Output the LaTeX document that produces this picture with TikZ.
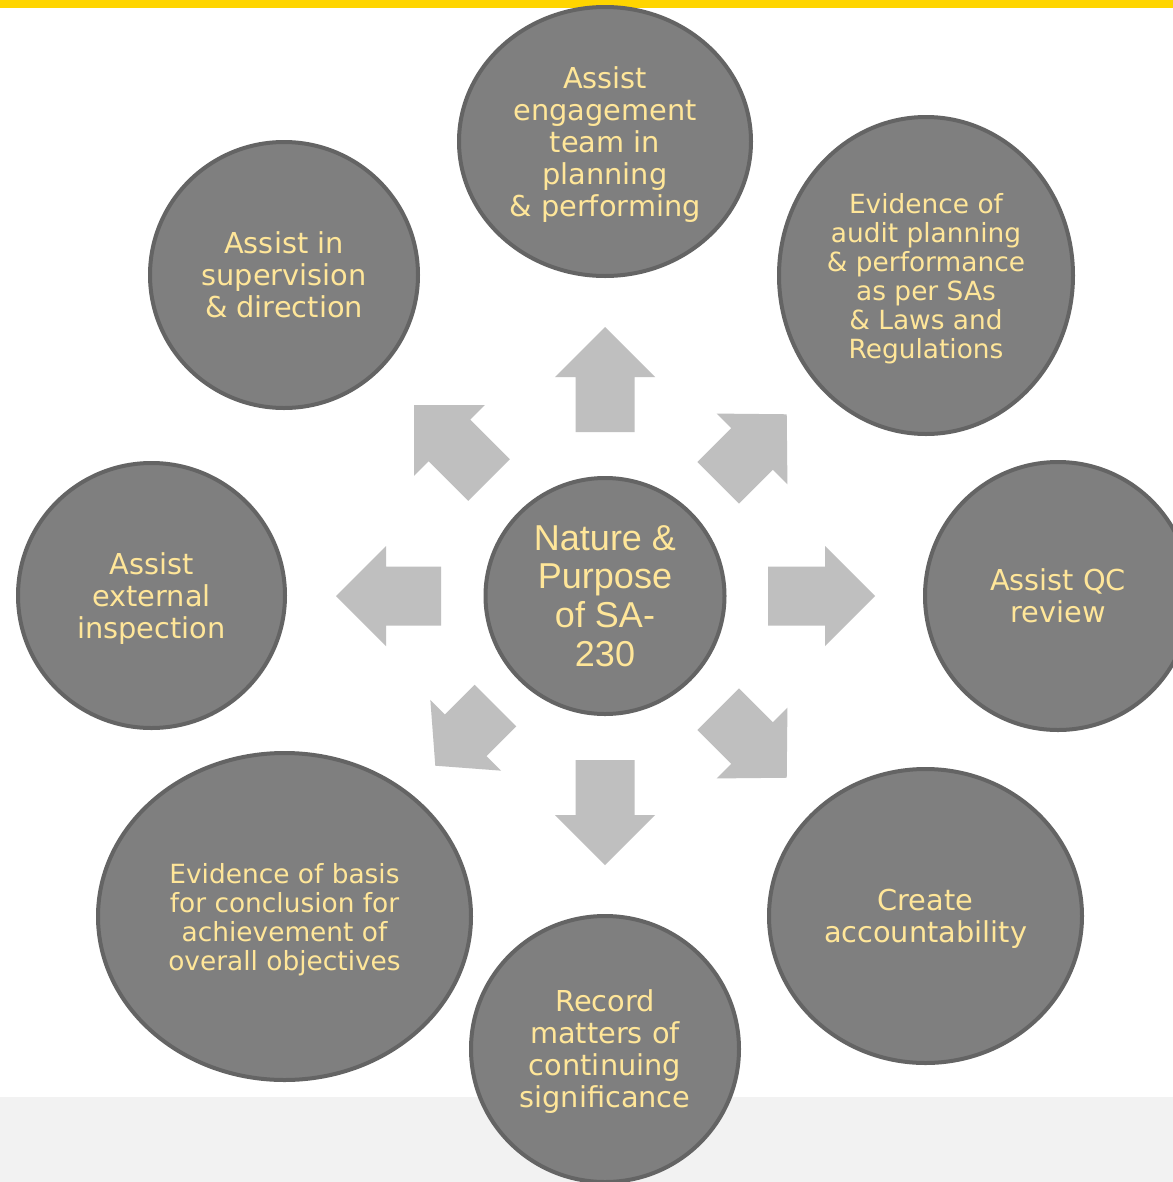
\documentclass[tikz,border=0pt]{standalone}
\usepackage{fontspec}
\usetikzlibrary{shapes.geometric}
\newfontfamily\verdfont{DejaVu Sans}
\newfontfamily\arialfont{Liberation Sans}
\definecolor{topbarcolor}{HTML}{FFD500}
\definecolor{bandcolor}{HTML}{F2F2F2}
\definecolor{cfill}{HTML}{7F7F7F}
\definecolor{cedge}{HTML}{646464}
\definecolor{ctext}{HTML}{FFE699}
\definecolor{agray}{HTML}{BFBFBF}
\newcommand{\radarrow}[4]{%
  \fill[blockarrow, shift={(hub.center)}, rotate=#1]
    (#2,-29.5) -- (#3,-29.5) -- (#3,-50) -- (#4,0) -- (#3,50) -- (#3,29.5) -- (#2,29.5) -- cycle;}
\begin{document}
\begin{tikzpicture}[x=0.75pt,y=-0.75pt,
  bubble/.style={ellipse, fill=cfill, draw=cedge, line width=3pt, inner sep=0pt,
    text=ctext, align=center, text depth=0pt, font=\verdfont\fontsize{21.6}{24}\selectfont},
  smalltext/.style={font=\verdfont\fontsize{19.8}{21.75}\selectfont},
  hubtext/.style={font=\arialfont\fontsize{27}{29}\selectfont},
  blockarrow/.style={fill=agray, draw=none}]
\useasboundingbox (0,0) rectangle (1173,1182);
\clip (0,0) rectangle (1173,1182);
\fill[white] (0,0) rectangle (1173,1182);
\fill[topbarcolor] (0,0) rectangle (1173,8);
\fill[bandcolor] (0,1097) rectangle (1173,1182);
\coordinate (hub) at (605,596);
% block arrows
\radarrow{90}{164}{219}{269}
\radarrow{270}{164}{219}{269}
\radarrow{0}{163}{220}{270}
\radarrow{180}{164}{219}{269}
\radarrow{135}{164}{220}{270}
\radarrow{45}{160}{208}{257}
\radarrow{315}{160}{208}{257}
\radarrow{225}{155}{197}{240}
% circles
\node[bubble, minimum width=219pt, minimum height=201.75pt] (plan) at (605,141.5)
  {Assist\\engagement\\team in\\planning\\\& performing};
\node[bubble, smalltext, minimum width=220.5pt, minimum height=237.75pt] (evid) at (926,275.5)
  {Evidence of\\audit planning\\\& performance\\as per SAs\\\& Laws and\\Regulations};
\node[bubble, minimum width=199.5pt, minimum height=201pt] (qc) at (1058,596)
  {Assist QC\\review};
\node[bubble, minimum width=234.75pt, minimum height=220.5pt] (acc) at (925.5,916)
  {Create\\accountability};
\node[bubble, minimum width=201pt, minimum height=199.5pt] (rec) at (605,1049)
  {Record\\matters of\\continuing\\significance};
\node[bubble, smalltext, minimum width=279.75pt, minimum height=245.25pt] (basis) at (284.5,916.5)
  {Evidence of basis\\for conclusion for\\achievement of\\overall objectives};
\node[bubble, minimum width=200.25pt, minimum height=198.75pt] (ext) at (151.5,595.5)
  {Assist\\external\\inspection};
\node[bubble, minimum width=201pt, minimum height=199.5pt] (sup) at (284,275)
  {Assist in\\supervision\\\& direction};
\node[bubble, hubtext, text depth=, minimum width=179.25pt, minimum height=177pt] (center) at (605,596)
  {Nature \&\\Purpose\\of SA-\\230};
\end{tikzpicture}
\end{document}
